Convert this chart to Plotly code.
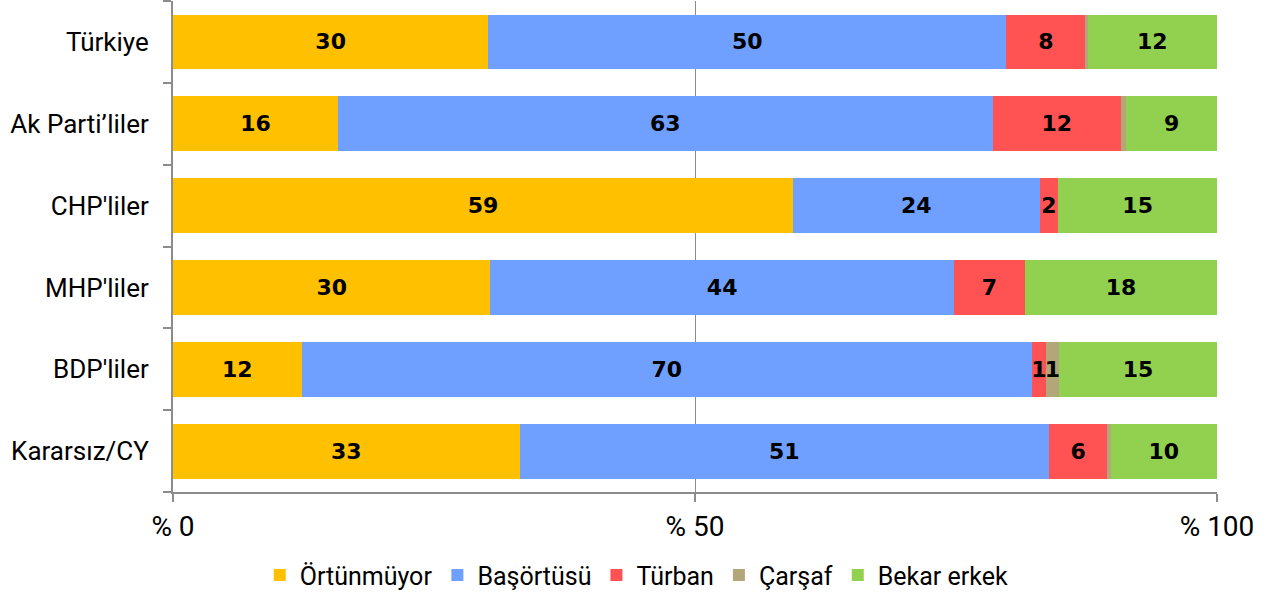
import plotly.graph_objects as go

categories = ["Türkiye", "Ak Parti’liler", "CHP'liler", "MHP'liler", "BDP'liler", "Kararsız/CY"]
series_names = ["Örtünmüyor", "Başörtüsü", "Türban", "Çarşaf", "Bekar erkek"]
ortunmuyor = [30.2, 15.8, 59.4, 30.4, 12.3, 33.2]
basortusu = [49.6, 62.7, 23.6, 44.4, 69.9, 50.7]
turban = [7.6, 12.3, 1.8, 6.8, 1.3, 5.6]
carsaf = [0.2, 0.5, 0.0, 0.0, 1.3, 0.3]
bekar_erkek = [12.4, 8.7, 15.2, 18.4, 15.1, 10.2]
tick_vals = [0, 50, 100]
tick_text = ["% 0", "% 50", "% 100"]

colors = ["#FFC000", "#6F9FFF", "#FF5252", "#B3A67A", "#92D050"]
all_series = [ortunmuyor, basortusu, turban, carsaf, bekar_erkek]

fig = go.Figure()
for name, vals, col in zip(series_names, all_series, colors):
    labels = [str(round(v)) if round(v) >= 1 else "" for v in vals]
    fig.add_trace(go.Bar(
        y=categories, x=vals, name=name, orientation="h",
        marker=dict(color=col, line=dict(width=0)),
        text=labels, textposition="inside", insidetextanchor="middle",
        textangle=0, constraintext="none", cliponaxis=False,
        textfont=dict(family="DejaVu Sans", size=22, color="black", weight="bold"),
        hoverinfo="skip",
    ))

fig.update_layout(
    barmode="stack", barnorm="percent",
    width=1276, height=593,
    margin=dict(l=173, r=59, t=1, b=101),
    paper_bgcolor="white", plot_bgcolor="white",
    bargap=0.33,
    font=dict(family="Roboto, sans-serif", color="black"),
    legend=dict(orientation="h", xref="container", yref="container",
                x=0.499, xanchor="center", y=0.03, yanchor="middle",
                font=dict(size=25, family="Roboto, sans-serif"),
                traceorder="normal", itemwidth=30),
    showlegend=True,
)
fig.update_xaxes(range=[0, 100], tickvals=tick_vals, ticktext=tick_text,
                 showgrid=True, gridcolor="#8C8C8C", gridwidth=1,
                 showline=True, linecolor="#8C8C8C", linewidth=2,
                 ticks="outside", ticklen=8, tickcolor="#8C8C8C", tickwidth=2,
                 tickfont=dict(size=28), zeroline=False, fixedrange=True)
fig.update_yaxes(categoryorder="array", categoryarray=categories[::-1],
                 autorange=False, range=[-0.5, 5.5],
                 showline=True, linecolor="#8C8C8C", linewidth=2,
                 ticks="outside", ticklen=8, tickcolor="#8C8C8C", tickwidth=2,
                 tickson="boundaries", ticklabelstandoff=17,
                 tickfont=dict(size=26), showgrid=False, fixedrange=True)

fig.write_html("out.html", config={"displayModeBar": False},
               post_script="document.body.style.margin='0px';")
